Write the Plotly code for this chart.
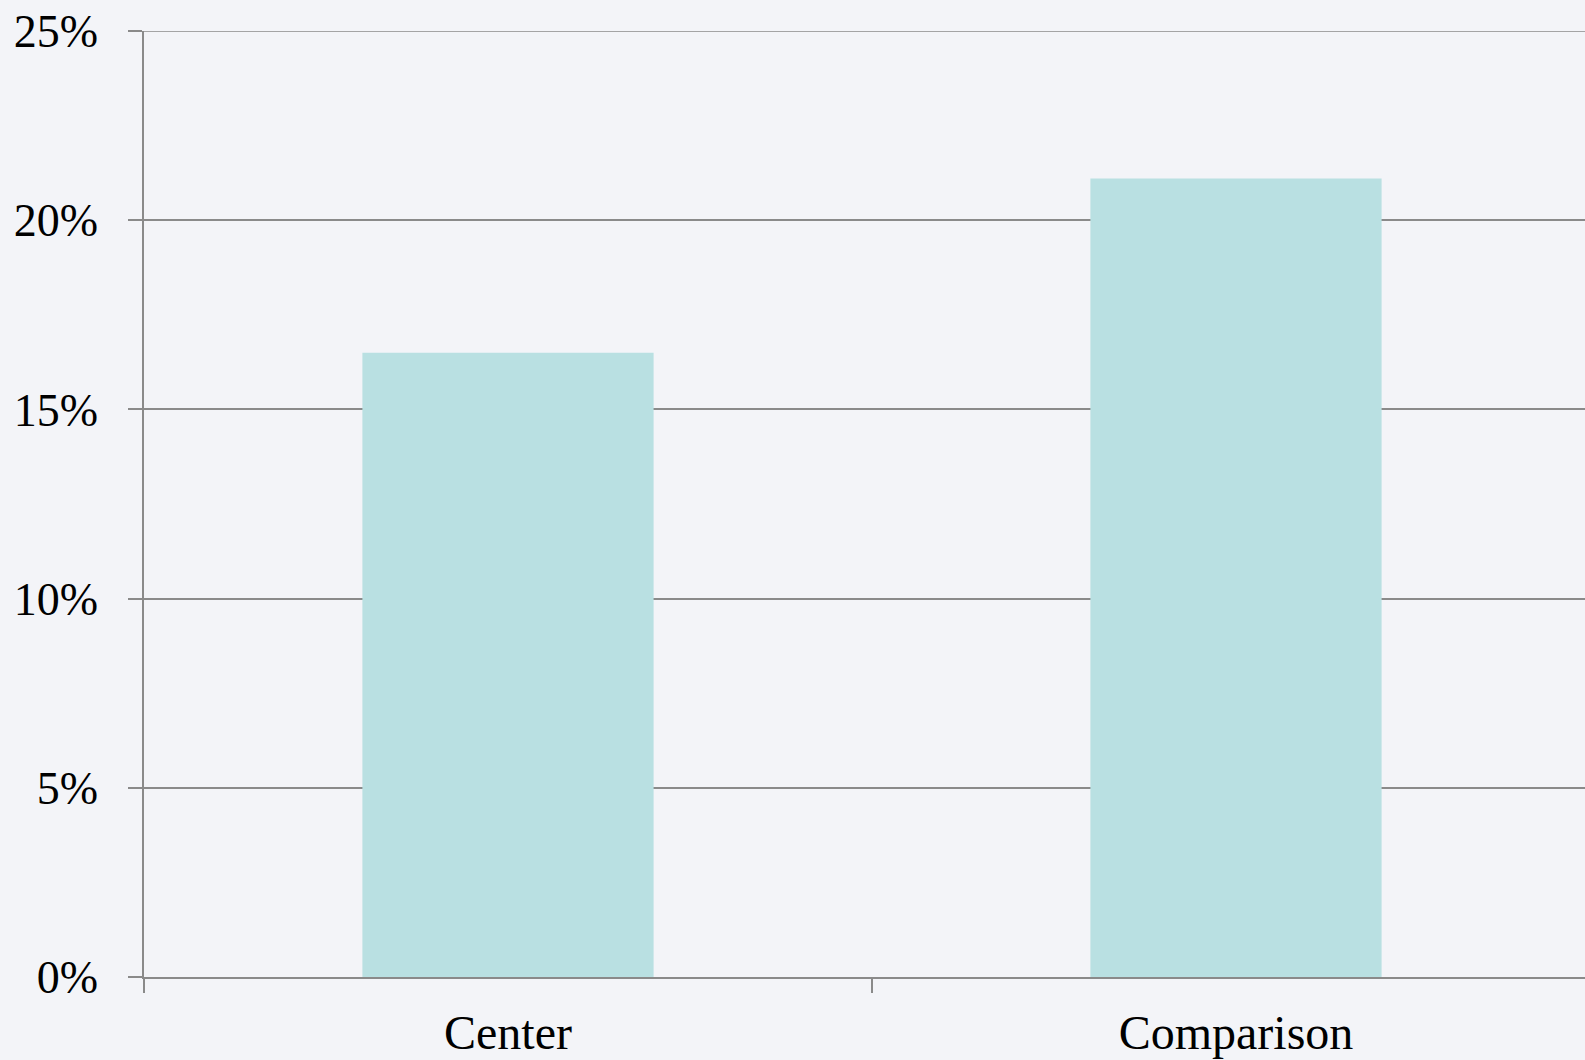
import plotly.graph_objects as go

# Share of cases by group (percent)
categories = ["Center", "Comparison"]
values = [16.5, 21.1]
y_ticks = [0, 5, 10, 15, 20, 25]
y_tick_labels = [f"{v}%" for v in y_ticks]

BG = "#f3f4f8"
BAR = "#b9e0e2"
LINE = "#8a8a8a"
FONT = "Liberation Serif, Times New Roman, serif"

fig = go.Figure(
    go.Bar(
        x=categories,
        y=values,
        width=0.4,
        marker=dict(color=BAR, line=dict(width=0)),
        hoverinfo="skip",
    )
)

fig.update_layout(
    width=1585,
    height=1060,
    margin=dict(l=144, r=0, t=31, b=83, pad=0),
    paper_bgcolor=BG,
    plot_bgcolor=BG,
    showlegend=False,
    bargap=0.6,
)

# top gridline sits on the plot edge, so draw it explicitly
fig.add_shape(
    type="line",
    xref="paper",
    yref="y",
    x0=0,
    x1=1,
    y0=y_ticks[-1],
    y1=y_ticks[-1],
    line=dict(color=LINE, width=1.5),
    layer="below",
)

fig.update_xaxes(
    type="category",
    range=[-0.5, -0.5 + 1441 / 728],
    showline=True,
    linecolor=LINE,
    linewidth=1.5,
    ticks="outside",
    tickson="boundaries",
    ticklen=14,
    tickwidth=1.5,
    tickcolor=LINE,
    showgrid=False,
    ticklabelstandoff=13,
    tickfont=dict(family=FONT, size=48, color="#000000"),
)

fig.update_yaxes(
    range=[0, 25],
    tickmode="array",
    tickvals=y_ticks,
    ticktext=y_tick_labels,
    showline=True,
    linecolor=LINE,
    linewidth=1.5,
    ticks="outside",
    ticklen=14,
    tickwidth=1.5,
    tickcolor=LINE,
    showgrid=True,
    gridcolor=LINE,
    gridwidth=1.5,
    zeroline=False,
    ticklabelstandoff=21,
    tickfont=dict(family=FONT, size=46, color="#000000"),
)

fig.write_html("out.html")
